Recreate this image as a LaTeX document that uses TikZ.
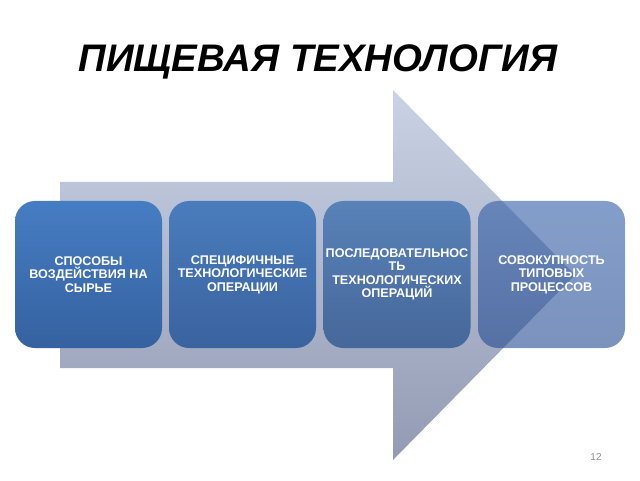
\documentclass[tikz,border=0pt]{standalone}
\usepackage{fontspec}
\setmainfont{Liberation Sans}
\usetikzlibrary{positioning}

\definecolor{arrowtop}{HTML}{CAD2E5}
\definecolor{arrowbot}{HTML}{929BB3}
\definecolor{boxatop}{HTML}{467DC2}
\definecolor{boxabot}{HTML}{3561A0}
\definecolor{boxbtop}{HTML}{4A7CBC}
\definecolor{boxbbot}{HTML}{3A639F}
\definecolor{boxctop}{HTML}{5882B8}
\definecolor{boxcbot}{HTML}{46679A}
\definecolor{boxdtop}{HTML}{325DA8}
\definecolor{boxdbot}{HTML}{224A90}
\definecolor{pagegrey}{HTML}{8C8C8C}

\begin{document}
\begin{tikzpicture}[x=0.5pt,y=-0.5pt]

      \useasboundingbox (0,0) rectangle (640,480);

      % big arrow behind the steps
      \shade[top color=arrowtop, bottom color=arrowbot]
        (60,182) -- (393,182) -- (393,90) -- (575,275)
        -- (393,460) -- (393,368) -- (60,368) -- cycle;

      \node[anchor=base] (title) at (318,72)
        {\fontsize{19.2}{23}\selectfont\bfseries\itshape ПИЩЕВАЯ ТЕХНОЛОГИЯ};

      \begin{scope}[every node/.style={rectangle, rounded corners=10pt,
          minimum width=73.5pt, minimum height=73.5pt, inner sep=1pt,
          align=center, text=white,
          font=\fontsize{6.3}{6.7}\selectfont\bfseries}]
        \node[top color=boxatop, bottom color=boxabot] (1) at (88.5,274.5)
          {СПОСОБЫ\\ВОЗДЕЙСТВИЯ НА\\СЫРЬЕ};
        \node[top color=boxbtop, bottom color=boxbbot] (2) at (242.5,274.5)
          {СПЕЦИФИЧНЫЕ\\ТЕХНОЛОГИЧЕСКИЕ\\ОПЕРАЦИИ};
        \node[top color=boxctop, bottom color=boxcbot] (3) at (397,274.5)
          {ПОСЛЕДОВАТЕЛЬНОС\\ТЬ\\ТЕХНОЛОГИЧЕСКИХ\\ОПЕРАЦИЙ};
        \node[top color=boxdtop, bottom color=boxdbot, fill opacity=0.6,
          text opacity=1] (4) at (551.5,274.5)
          {СОВОКУПНОСТЬ\\ТИПОВЫХ\\ПРОЦЕССОВ};
      \end{scope}

      \node[text=pagegrey, font=\fontsize{5}{6}\selectfont] (page) at (596,457) {12};

    \end{tikzpicture}
\end{document}
